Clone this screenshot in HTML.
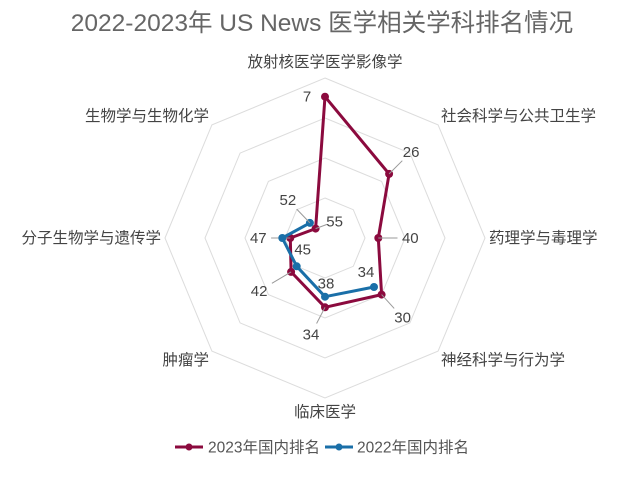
<!DOCTYPE html>
<html><head><meta charset="utf-8">
<style>
html,body{margin:0;padding:0;background:#fff;}
svg text{font-family:"Liberation Sans","Noto Sans CJK SC",sans-serif;}
</style></head>
<body>
<svg id="chart" width="635" height="472" viewBox="0 0 635 472" xmlns="http://www.w3.org/2000/svg">
<text x="322" y="31" text-anchor="middle" font-size="24.5" fill="#666">2022-2023年 US News 医学相关学科排名情况</text>
<g id="grid"></g><g id="axisLabels"></g><g id="series"></g>
<g>
 <g>
  <line x1="175" y1="447" x2="203" y2="447" stroke="#8b0a3e" stroke-width="3"/>
  <circle cx="189" cy="447" r="3.5" fill="#8b0a3e"/>
  <text x="208" y="452.5" font-size="15.5" fill="#555">2023年国内排名</text>
 </g>
 <g>
  <line x1="325" y1="447" x2="353" y2="447" stroke="#1a6fa8" stroke-width="3"/>
  <circle cx="339" cy="447" r="3.5" fill="#1a6fa8"/>
  <text x="357" y="452.5" font-size="15.5" fill="#555">2022年国内排名</text>
 </g>
</g>
</svg>
<script>
const categories = ["放射核医学医学影像学","社会科学与公共卫生学","药理学与毒理学","神经科学与行为学","临床医学","肿瘤学","分子生物学与遗传学","生物学与生物化学"];
const rank2023 = [7,26,40,30,34,42,47,55];
const rank2022 = [null,null,null,34,38,45,44,52];
const show2023 = [true,true,true,true,true,true,true,true];
const show2022 = [false,false,false,true,true,true,false,true];
const radialMax = 60;
const ringCount = 4;

const NS="http://www.w3.org/2000/svg";
const cx=325, cy=238, R=160;
const N=categories.length;
function ang(i){return (-90+360*i/N)*Math.PI/180;}
function rScale(v){return R*(radialMax-v)/radialMax;}
function pt(i,v){const r=rScale(v),a=ang(i);return [cx+r*Math.cos(a),cy+r*Math.sin(a)];}
function mk(tag,attrs,parent){const e=document.createElementNS(NS,tag);for(const k in attrs)e.setAttribute(k,attrs[k]);parent.appendChild(e);return e;}

const grid=document.getElementById('grid');
for(let k=1;k<=ringCount;k++){
  const r=R*k/ringCount;let p=[];
  for(let i=0;i<N;i++){const a=ang(i);p.push((cx+r*Math.cos(a)).toFixed(1)+","+(cy+r*Math.sin(a)).toFixed(1));}
  const poly=mk('polygon',{points:p.join(' '),fill:'none',stroke:'#dcdcdc','stroke-width':1},grid);
  
  
}
const al=document.getElementById('axisLabels');
for(let i=0;i<N;i++){
  const a=ang(i),c=Math.cos(a),s=Math.sin(a);
  const x=cx+164*c, y=cy+178*s*0.97+5;
  let anchor='middle'; if(c>0.3)anchor='start'; else if(c<-0.3)anchor='end';
  const t=mk('text',{x:x.toFixed(1),y:(i==0?67:(i==4?417:y.toFixed(1))),'text-anchor':anchor,'font-size':15.5,fill:'#444'},al);
  t.textContent=categories[i];
  
  
}
const off2023=[[-18,0],[22,-22],[32,0],[21,23],[-14,27],[-32,19],[-32,0],[19,-7]];
const off2022=[[0,0],[0,0],[0,0],[-8,-15],[1,-13],[6,-17],[0,0],[-22,-23]];

const sg=document.getElementById('series');
function drawSeries(vals,color,name,offs,shows){
  const g=mk('g',{},sg);
  
  
  const pts=[];
  vals.forEach((v,i)=>{if(v!=null)pts.push([i,v]);});
  const d=pts.map((p,j)=>{const q=pt(p[0],p[1]);return (j?'L':'M')+q[0].toFixed(1)+' '+q[1].toFixed(1);}).join(' ')+(pts.length===N?' Z':'');
  const path=mk('path',{d:d,fill:'none',stroke:color,'stroke-width':3,'stroke-linejoin':'round'},g);
  
  
  pts.forEach(p=>{
    const i=p[0],v=p[1],q=pt(i,v);
    const c=mk('circle',{cx:q[0].toFixed(1),cy:q[1].toFixed(1),r:4,fill:color},g);
    
    
    if(shows[i]){
      const o=offs[i],lx=q[0]+o[0],ly=q[1]+o[1];
      const dist=Math.hypot(o[0],o[1]);
      if(dist>20){
        const ln=mk('line',{x1:q[0].toFixed(1),y1:q[1].toFixed(1),x2:(q[0]+o[0]*0.6).toFixed(1),y2:(q[1]+o[1]*0.6).toFixed(1),stroke:'#999','stroke-width':1},g);
        
        
      }
      const t=mk('text',{x:lx.toFixed(1),y:(ly+5).toFixed(1),'text-anchor':'middle','font-size':15,fill:'#444'},g);
      t.textContent=String(v);
      
      
    }
  });
}
drawSeries(rank2023,'#8b0a3e','series-2023',off2023,show2023);
drawSeries(rank2022,'#1a6fa8','series-2022',off2022,show2022);
</script>
</body></html>
